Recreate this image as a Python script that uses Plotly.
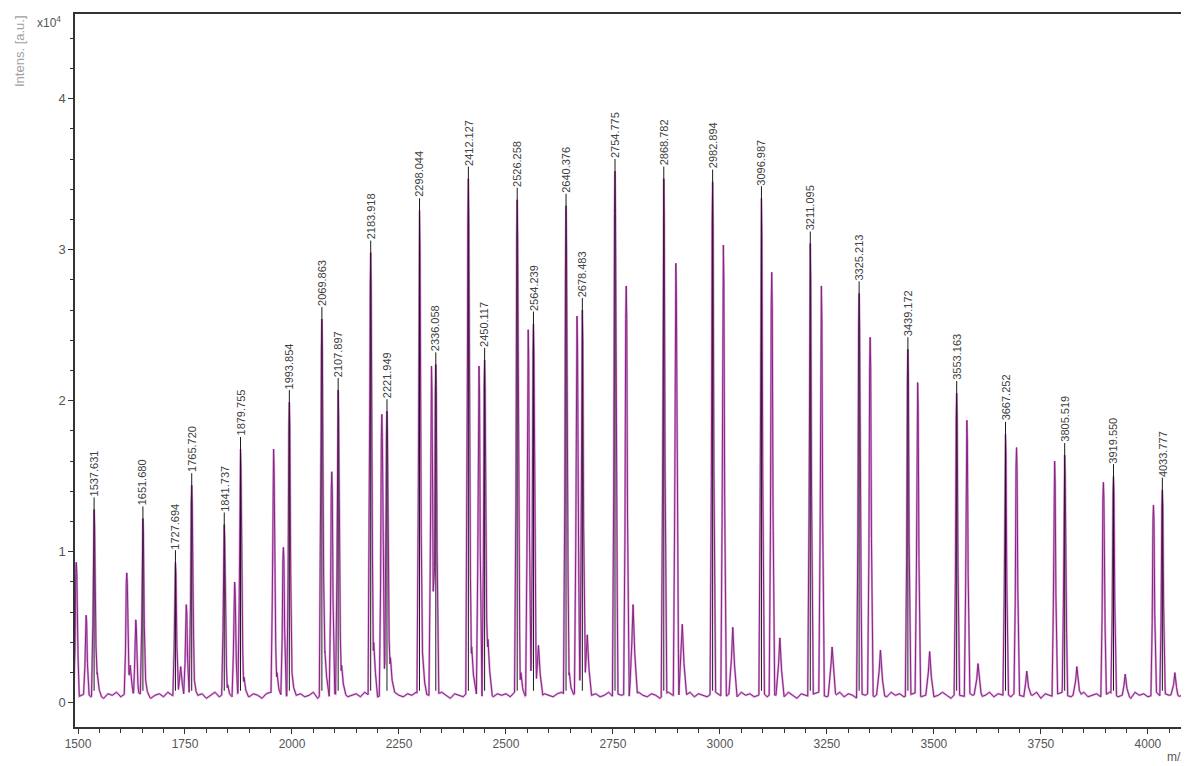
import numpy as np
import plotly.graph_objects as go

# ---- data (intensity in units of 10^4 a.u.) ----
labeled_mz = [1537.631, 1651.680, 1727.694, 1765.720, 1841.737, 1879.755, 1993.854,
              2069.863, 2107.897, 2183.918, 2221.949, 2298.044, 2336.058, 2412.127,
              2450.117, 2526.258, 2564.239, 2640.376, 2678.483, 2754.775, 2868.782,
              2982.894, 3096.987, 3211.095, 3325.213, 3439.172, 3553.163, 3667.252,
              3805.519, 3919.550, 4033.777]
labeled_int = [1.36, 1.30, 1.01, 1.52, 1.26, 1.76, 2.07,
               2.62, 2.15, 3.06, 2.01, 3.34, 2.32, 3.55,
               2.35, 3.41, 2.59, 3.37, 2.68, 3.60, 3.55,
               3.53, 3.42, 3.12, 2.79, 2.42, 2.13, 1.86,
               1.72, 1.58, 1.49]
labeled_text = ["1537.631", "1651.680", "1727.694", "1765.720", "1841.737", "1879.755",
                "1993.854", "2069.863", "2107.897", "2183.918", "2221.949", "2298.044",
                "2336.058", "2412.127", "2450.117", "2526.258", "2564.239", "2640.376",
                "2678.483", "2754.775", "2868.782", "2982.894", "3096.987", "3211.095",
                "3325.213", "3439.172", "3553.163", "3667.252", "3805.519", "3919.550",
                "4033.777"]

other_mz = [1496, 1519, 1614, 1635, 1753, 1866, 1957, 1980, 2093, 2210, 2326, 2437,
            2552, 2666, 2781, 2897, 3008, 3121, 3237, 3351, 3462, 3577, 3693, 3782,
            3896, 4013]
other_int = [0.93, 0.58, 0.86, 0.55, 0.65, 0.80, 1.68, 1.03, 1.53, 1.91, 2.23, 2.23,
             2.47, 2.56, 2.76, 2.91, 3.03, 2.85, 2.76, 2.42, 2.12, 1.87, 1.69, 1.60,
             1.46, 1.31]

shoulder_mz = [1545, 1622, 1658, 1740, 1772, 1850, 1888, 1965, 2000, 2077, 2116, 2191,
               2230, 2305, 2333, 2420, 2458, 2535, 2576, 2648, 2690, 2797, 2912, 3030,
               3140, 3262, 3375, 3490, 3603, 3717, 3834, 3947, 4063]
shoulder_int = [0.20, 0.25, 0.15, 0.24, 0.15, 0.12, 0.17, 0.20, 0.20, 0.34, 0.25, 0.40,
                0.30, 0.33, 0.25, 0.37, 0.42, 0.20, 0.38, 0.20, 0.45, 0.65, 0.52, 0.50,
                0.43, 0.37, 0.35, 0.34, 0.26, 0.21, 0.24, 0.19, 0.20]

baseline_start = 1490
baseline_step = 10
baseline_int = [0.06, 0.04, 0.05, 0.07, 0.04, 0.06, 0.05, 0.03, 0.06, 0.05,
                0.07, 0.04, 0.06, 0.05, 0.04, 0.07, 0.05, 0.06, 0.03, 0.05,
                0.06, 0.04, 0.07, 0.05, 0.04, 0.06, 0.05, 0.07, 0.04, 0.05,
                0.06, 0.03, 0.05, 0.07, 0.04, 0.06, 0.05, 0.04, 0.06, 0.07,
                0.05, 0.04, 0.06, 0.05, 0.03, 0.06, 0.07, 0.04, 0.05, 0.06,
                0.04, 0.07, 0.05, 0.06, 0.04, 0.05, 0.07, 0.03, 0.06, 0.05,
                0.04, 0.06, 0.05, 0.07, 0.04, 0.05, 0.06, 0.04, 0.07, 0.05,
                0.06, 0.04, 0.05, 0.06, 0.03, 0.07, 0.05, 0.04, 0.06, 0.05,
                0.07, 0.04, 0.06, 0.05, 0.04, 0.06, 0.07, 0.05, 0.03, 0.06,
                0.05, 0.04, 0.07, 0.05, 0.06, 0.04, 0.05, 0.07, 0.04, 0.06,
                0.05, 0.06, 0.04, 0.07, 0.05, 0.03, 0.06, 0.05, 0.07, 0.04,
                0.06, 0.05, 0.04, 0.06, 0.07, 0.05, 0.04, 0.06, 0.05, 0.03,
                0.07, 0.05, 0.06, 0.04, 0.05, 0.07, 0.04, 0.06, 0.05, 0.06,
                0.04, 0.05, 0.07, 0.05, 0.04, 0.06, 0.05, 0.03, 0.06, 0.07,
                0.05, 0.04, 0.06, 0.05, 0.07, 0.04, 0.06, 0.05, 0.04, 0.06,
                0.07, 0.05, 0.03, 0.06, 0.05, 0.04, 0.07, 0.05, 0.06, 0.04,
                0.05, 0.07, 0.04, 0.06, 0.05, 0.06, 0.04, 0.07, 0.05, 0.03,
                0.06, 0.05, 0.04, 0.06, 0.07, 0.05, 0.04, 0.06, 0.05, 0.07,
                0.04, 0.06, 0.05, 0.03, 0.06, 0.05, 0.07, 0.04, 0.06, 0.05,
                0.04, 0.07, 0.05, 0.06, 0.04, 0.05, 0.06, 0.07, 0.04, 0.05,
                0.06, 0.04, 0.05, 0.07, 0.05, 0.03, 0.06, 0.05, 0.04, 0.07,
                0.05, 0.06, 0.04, 0.05, 0.07, 0.04, 0.06, 0.05, 0.06, 0.04,
                0.07, 0.05, 0.04, 0.06, 0.05, 0.07, 0.03, 0.06, 0.05, 0.04,
                0.06, 0.07, 0.05, 0.04, 0.06, 0.05, 0.07, 0.04, 0.05, 0.06,
                0.04, 0.05, 0.07, 0.06, 0.04, 0.05, 0.06, 0.03, 0.07, 0.05,
                0.06, 0.04, 0.05, 0.07, 0.04, 0.06, 0.05, 0.06, 0.04, 0.05,
                0.07, 0.05, 0.04]

x_tickvals = [1500, 1750, 2000, 2250, 2500, 2750, 3000, 3250, 3500, 3750, 4000]
y_tickvals = [0, 1, 2, 3, 4]

# ---- build the spectrum trace as the upper envelope of peak shapes ----
base_x = np.array([baseline_start + i * baseline_step for i in range(len(baseline_int))], float)
base_y = np.array(baseline_int, float)

peak_off = np.array([-6.0, -3.0, -1.2, 0.0, 1.2, 3.0, 7.0])
peak_frac = np.array([0.0, 0.4, 0.92, 1.0, 0.92, 0.45, 0.0])
sh_off = np.array([-9.0, -3.0, 0.0, 4.0, 10.0])
sh_frac = np.array([0.0, 0.6, 1.0, 0.5, 0.0])

shapes = []
for m, h in zip(labeled_mz, labeled_int):
    shapes.append((m + peak_off, (h - 0.08) * peak_frac))
for m, h in zip(other_mz, other_int):
    shapes.append((m + peak_off, h * peak_frac))
for m, h in zip(shoulder_mz, shoulder_int):
    shapes.append((m + sh_off, h * sh_frac))

xs = set(base_x.tolist())
for sx, _ in shapes:
    xs.update(sx.tolist())
xs = np.array(sorted(xs))
ys = np.interp(xs, base_x, base_y)
for sx, sy in shapes:
    ys = np.maximum(ys, np.interp(xs, sx, sy, left=0.0, right=0.0))

fig = go.Figure()
fig.add_trace(go.Scatter(x=xs, y=ys, mode="lines",
                         line=dict(color="#dca0dc", width=2.2),
                         hoverinfo="skip", showlegend=False))
fig.add_trace(go.Scatter(x=xs, y=ys, mode="lines",
                         line=dict(color="#84257f", width=1),
                         hoverinfo="skip", showlegend=False))

# black marker sticks for labelled peaks
stick_x, stick_y = [], []
for m, h in zip(labeled_mz, labeled_int):
    stick_x += [m, m, None]
    stick_y += [0.08, h, None]
fig.add_trace(go.Scatter(x=stick_x, y=stick_y, mode="lines",
                         line=dict(color="#1a1a1a", width=1),
                         hoverinfo="skip", showlegend=False))

for m, h, t in zip(labeled_mz, labeled_int, labeled_text):
    fig.add_annotation(x=m, y=h, text=t, textangle=-90, showarrow=False,
                       xanchor="center", yanchor="bottom", borderpad=0,
                       font=dict(family="Liberation Sans, Arial", size=11, color="#404040"))

# page body has an 8px margin: shift the figure so the plot lands where the reference has it
OFF = 8
W, H = 1189 - OFF, 766 - OFF
L, R, T, B = 75 - OFF, 0, 14 - OFF, 39
pw, ph = W - L - R, H - T - B

def px_x(px):
    return (px - OFF - L) / pw

def px_y(py):
    return (H - B - (py - OFF)) / ph

fig.add_annotation(xref="paper", yref="paper", x=px_x(35), y=px_y(12),
                   text="x10<sup>4</sup>", showarrow=False, xanchor="left", yanchor="top",
                   font=dict(family="Liberation Sans, Arial", size=12, color="#555"))
fig.add_annotation(xref="paper", yref="paper", x=px_x(20), y=px_y(13),
                   text="Intens. [a.u.]", textangle=-90, showarrow=False,
                   xanchor="center", yanchor="top",
                   font=dict(family="Liberation Sans, Arial", size=13, color="#a0a0a0"))
fig.add_annotation(xref="paper", yref="paper", x=px_x(1165), y=px_y(757),
                   text="m/z", showarrow=False, xanchor="left", yanchor="middle",
                   font=dict(family="Liberation Sans, Arial", size=12, color="#555"))

fig.update_xaxes(range=[1493, 4096], tickmode="array", tickvals=x_tickvals,
                 ticks="outside", ticklen=5, tickcolor="#333", tickwidth=1,
                 showline=True, linecolor="#333", linewidth=1.5, mirror=True,
                 showgrid=False, zeroline=False,
                 tickfont=dict(family="Liberation Sans, Arial", size=12, color="#555"),
                 minor=dict(tick0=1500, dtick=50, ticks="outside", ticklen=4,
                            tickcolor="#333", showgrid=False))
fig.update_yaxes(range=[-0.16, 4.56], tickmode="array", tickvals=y_tickvals,
                 ticks="outside", ticklen=5, tickcolor="#333", tickwidth=1,
                 showline=True, linecolor="#333", linewidth=1.5,
                 showgrid=False, zeroline=False,
                 tickfont=dict(family="Liberation Sans, Arial", size=13, color="#555"),
                 minor=dict(tick0=0, dtick=0.2, ticks="outside", ticklen=3,
                            tickcolor="#333", showgrid=False))

fig.update_layout(width=W, height=H, margin=dict(l=L, r=R, t=T, b=B, autoexpand=False),
                  paper_bgcolor="white", plot_bgcolor="white", showlegend=False)

fig.write_html("out.html")
